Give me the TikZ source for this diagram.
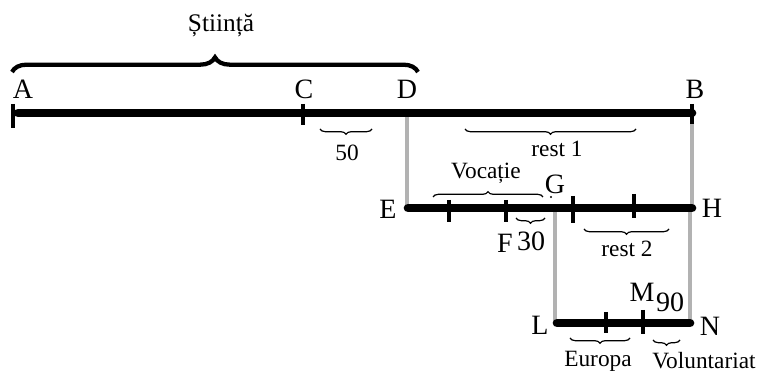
\documentclass[tikz,border=0pt]{standalone}
\usepackage{fontspec}
\setmainfont{Liberation Serif}
\usetikzlibrary{decorations.pathreplacing}
\begin{document}
\begin{tikzpicture}[x=0.75pt,y=-0.75pt,
  seg/.style={line width=6.5pt,line cap=round},
  tick/.style={line width=2.8pt},
  guide/.style={line width=2.3pt,color=black!30},
  pt/.style={font=\fontsize{21}{24}\selectfont,inner sep=0pt},
  lab/.style={font=\fontsize{17.5}{20}\selectfont,inner sep=0pt},
  bigbrace/.style={decorate,decoration={brace,amplitude=11pt},line width=3.2pt},
  smallbrace/.style={decorate,decoration={brace,amplitude=4pt,mirror},line width=0.9pt},
  upbrace/.style={decorate,decoration={brace,amplitude=4pt},line width=0.9pt}]
\useasboundingbox (0,0) rectangle (758,373);
% main points
\coordinate (A) at (18,113);
\coordinate (C) at (303,113);
\coordinate (D) at (407,113);
\coordinate (B) at (692,113);
\coordinate (E) at (408,208);
\coordinate (H) at (692,208);
\coordinate (Gp) at (555,208);
\coordinate (L) at (557,323);
\coordinate (N) at (690,323);
\coordinate (Lg) at (555,323);
% guide lines
\draw[guide] (D) -- (D |- E);
\draw[guide] (B) -- (H);
\draw[guide] (Gp) -- (Lg);
\draw[guide] (H -| N) -- (N);
% segments
\draw[seg] (A) -- (B);
\draw[seg] (E) -- (H);
\draw[seg] (L) -- (N);
% ticks
\draw[tick] (13,104) -- (13,128);
\draw[tick] (303,104) -- (303,125);
\draw[tick] (692,104) -- (692,124);
\draw[tick] (449,200) -- (449,222);
\draw[tick] (506,200) -- (506,222);
\draw[tick] (573,196) -- (573,223);
\draw[tick] (634,194) -- (634,218);
\draw[tick] (606,312) -- (606,333);
\draw[tick] (643,310) -- (643,334);
% point labels
\node[pt] (lA) at (23,89) {A};
\node[pt] (lC) at (304,89) {C};
\node[pt] (lD) at (407,89) {D};
\node[pt] (lB) at (695,89) {B};
\node[pt] (lE) at (388,209) {E};
\node[pt] (lH) at (712,208) {H};
\node[pt] (lG) at (555,184) {G};
\fill (551,197) circle (1.2);
\node[pt] (lF) at (505,243) {F};
\node[pt] (lL) at (540,325) {L};
\node[pt] (lN) at (710,326) {N};
\node[pt] (lM) at (642,292) {M};
\node[pt] (l90) at (670,302) {90};
\node[pt] (l30) at (531,241) {30};
% braces
\draw[bigbrace] (12,72) -- (418,72);
\node[lab,font=\fontsize{19}{22}\selectfont] (stiinta) at (221,26) {Știință};
\draw[smallbrace] (320,129) -- (372,129);
\node[lab] (l50) at (347,153) {50};
\draw[smallbrace] (465,129) -- (636,129);
\node[lab] (rest1) at (557,149) {rest 1};
\draw[upbrace] (433,197) -- (543,197);
\node[lab] (voc) at (486,173) {Vocație};
\draw[smallbrace] (516,218) -- (545,218);
\draw[smallbrace] (584,229) -- (669,229);
\node[lab] (rest2) at (627,249) {rest 2};
\draw[smallbrace] (570,338) -- (630,338);
\node[lab] (eur) at (598,361) {Europa};
\draw[smallbrace] (653,340) -- (680,340);
\node[lab] (vol) at (704,361) {Voluntariat};
\end{tikzpicture}
\end{document}
